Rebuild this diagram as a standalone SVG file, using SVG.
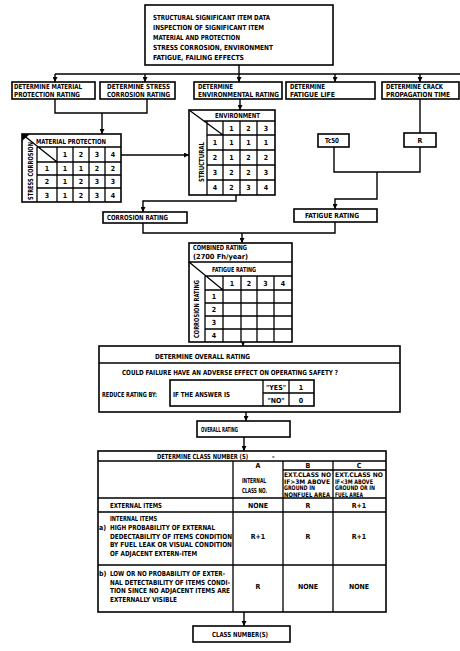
<svg xmlns="http://www.w3.org/2000/svg" width="460" height="651" viewBox="0 0 460 651">
<style>
.b{fill:#fff;stroke:#000;stroke-width:1.6}
.g{fill:none;stroke:#000;stroke-width:1.3}
.c{fill:none;stroke:#000;stroke-width:1.4}
text{font-family:"Liberation Sans Narrow","DejaVu Sans Condensed","Liberation Sans",sans-serif;font-weight:bold;font-size:7px;fill:#000}
.m{text-anchor:middle}
.s{font-size:6.3px}
</style>
<defs>
<marker id="ah" viewBox="0 0 10 10" refX="10" refY="5" markerWidth="5" markerHeight="5" markerUnits="userSpaceOnUse" orient="auto"><path d="M0,0 L10,5 L0,10 z" fill="#000"/></marker>
</defs>
<rect width="460" height="651" fill="#fff"/>

<g id="connectors">
<path class="c" d="M239,65 V74 M55,74 H460"/>
<path class="c" d="M55,74 V82" marker-end="url(#ah)"/>
<path class="c" d="M145,74 V82" marker-end="url(#ah)"/>
<path class="c" d="M239,74 V82" marker-end="url(#ah)"/>
<path class="c" d="M335,74 V82" marker-end="url(#ah)"/>
<path class="c" d="M420,74 V82" marker-end="url(#ah)"/>
<path class="c" d="M55,99 V113 H147 V99"/>
<path class="c" d="M102,113 V134" marker-end="url(#ah)"/>
<path class="c" d="M121,155 H189" marker-end="url(#ah)"/>
<path class="c" d="M240,99 V110" marker-end="url(#ah)"/>
<path class="c" d="M236,195 V201 H143 V212" marker-end="url(#ah)"/>
<path class="c" d="M420,99 V133"/>
<path class="c" d="M334,147 V172 H420 V147 M377,172 V199 H335 V209" marker-end="url(#ah)"/>
<path class="c" d="M143,223 V233 H335 V222"/>
<path class="c" d="M242,233 V243" marker-end="url(#ah)"/>
<path class="c" d="M243,339 V346" marker-end="url(#ah)"/>
<path class="c" d="M246,412 V421" marker-end="url(#ah)"/>
<path class="c" d="M244,437 V451" marker-end="url(#ah)"/>
<path class="c" d="M244,612 V626" marker-end="url(#ah)"/>
</g>

<g id="top">
<rect class="b" x="145" y="5" width="188" height="60"/>
<text x="153" y="19.5" textLength="117" lengthAdjust="spacingAndGlyphs">STRUCTURAL SIGNIFICANT ITEM DATA</text>
<text x="153" y="29.5" textLength="111" lengthAdjust="spacingAndGlyphs">INSPECTION OF SIGNIFICANT ITEM</text>
<text x="153" y="39.5" textLength="87" lengthAdjust="spacingAndGlyphs">MATERIAL AND PROTECTION</text>
<text x="153" y="49.5" textLength="120" lengthAdjust="spacingAndGlyphs">STRESS CORROSION, ENVIRONMENT</text>
<text x="153" y="60" textLength="91" lengthAdjust="spacingAndGlyphs">FATIGUE, FAILING EFFECTS</text>
</g>

<g id="det-material">
<rect class="b" x="12" y="82" width="83" height="17"/>
<text x="14" y="89" textLength="68" lengthAdjust="spacingAndGlyphs">DETERMINE MATERIAL</text>
<text x="14" y="97" textLength="66" lengthAdjust="spacingAndGlyphs">PROTECTION RATING</text>
</g>
<g id="det-stress">
<rect class="b" x="100" y="82" width="75" height="17"/>
<text x="107" y="89" textLength="63" lengthAdjust="spacingAndGlyphs">DETERMINE STRESS</text>
<text x="107" y="97" textLength="63" lengthAdjust="spacingAndGlyphs">CORROSION RATING</text>
</g>
<g id="det-env">
<rect class="b" x="194" y="82" width="88" height="17"/>
<text x="198" y="89" textLength="35" lengthAdjust="spacingAndGlyphs">DETERMINE</text>
<text x="198" y="97" textLength="81" lengthAdjust="spacingAndGlyphs">ENVIRONMENTAL RATING</text>
</g>
<g id="det-fatigue">
<rect class="b" x="286" y="82" width="89" height="17"/>
<text x="290" y="89" textLength="35" lengthAdjust="spacingAndGlyphs">DETERMINE</text>
<text x="290" y="97" textLength="45" lengthAdjust="spacingAndGlyphs">FATIGUE LIFE</text>
</g>
<g id="det-crack">
<rect class="b" x="382" y="82" width="77" height="17"/>
<text x="386" y="89" textLength="57" lengthAdjust="spacingAndGlyphs">DETERMINE CRACK</text>
<text x="386" y="97" textLength="64" lengthAdjust="spacingAndGlyphs">PROPAGATION TIME</text>
</g>

<g id="material-table">
<rect class="b" x="22" y="134" width="99" height="68"/>
<polygon points="22,134 30,134 22,141" fill="#000"/>
<path class="g" d="M22,134 L57,162 M37,147 H121 M37,147 V202 M37,162 H121 M37,175 H121 M37,188 H121 M57,147 V202 M73,147 V202 M89,147 V202 M105,147 V202"/>
<text x="36" y="144" textLength="70" lengthAdjust="spacingAndGlyphs">MATERIAL PROTECTION</text>
<text transform="translate(32.5,200) rotate(-90)" textLength="58" lengthAdjust="spacingAndGlyphs">STRESS CORROSION</text>
<text class="m" x="65" y="157">1</text><text class="m" x="81" y="157">2</text><text class="m" x="97" y="157">3</text><text class="m" x="113" y="157">4</text>
<text class="m" x="47" y="171">1</text><text class="m" x="65" y="171">1</text><text class="m" x="81" y="171">1</text><text class="m" x="97" y="171">2</text><text class="m" x="113" y="171">2</text>
<text class="m" x="47" y="184">2</text><text class="m" x="65" y="184">1</text><text class="m" x="81" y="184">2</text><text class="m" x="97" y="184">3</text><text class="m" x="113" y="184">3</text>
<text class="m" x="47" y="197.5">3</text><text class="m" x="65" y="197.5">1</text><text class="m" x="81" y="197.5">2</text><text class="m" x="97" y="197.5">3</text><text class="m" x="113" y="197.5">4</text>
</g>

<g id="environment-table">
<rect class="b" x="189" y="110" width="86" height="85"/>
<path class="g" d="M189,110 L223,135 M204,121 H275 M207,121 V195 M223,121 V195 M240,121 V195 M257,121 V195 M207,135 H275 M207,150 H275 M207,165 H275 M207,180 H275"/>
<text x="215" y="118" textLength="45" lengthAdjust="spacingAndGlyphs">ENVIRONMENT</text>
<text transform="translate(203.5,182) rotate(-90)" textLength="40" lengthAdjust="spacingAndGlyphs">STRUCTURAL</text>
<text class="m" x="231.5" y="130.5">1</text><text class="m" x="248.5" y="130.5">2</text><text class="m" x="266" y="130.5">3</text>
<text class="m" x="215" y="145">1</text><text class="m" x="231.5" y="145">1</text><text class="m" x="248.5" y="145">1</text><text class="m" x="266" y="145">1</text>
<text class="m" x="215" y="160">2</text><text class="m" x="231.5" y="160">1</text><text class="m" x="248.5" y="160">2</text><text class="m" x="266" y="160">2</text>
<text class="m" x="215" y="175">3</text><text class="m" x="231.5" y="175">2</text><text class="m" x="248.5" y="175">2</text><text class="m" x="266" y="175">3</text>
<text class="m" x="215" y="190">4</text><text class="m" x="231.5" y="190">2</text><text class="m" x="248.5" y="190">3</text><text class="m" x="266" y="190">4</text>
</g>

<g id="tc50">
<rect class="b" x="318" y="134" width="31" height="13"/>
<text x="325" y="143" textLength="14" lengthAdjust="spacingAndGlyphs">Tc50</text>
</g>
<g id="r">
<rect class="b" x="404" y="133" width="32" height="14"/>
<text class="m" x="420" y="143">R</text>
</g>

<g id="corrosion-rating">
<rect class="b" x="103" y="212" width="84" height="11"/>
<text x="107" y="220" textLength="61" lengthAdjust="spacingAndGlyphs">CORROSION RATING</text>
</g>
<g id="fatigue-rating">
<rect class="b" x="294" y="209" width="83" height="13"/>
<text x="305" y="218" textLength="54" lengthAdjust="spacingAndGlyphs">FATIGUE RATING</text>
</g>

<g id="combined-table">
<rect class="b" x="189" y="243" width="103" height="99"/>
<path class="g" d="M189,262 H292 M189,262 L223,290 M206,276 H292 M205,276 V342 M205,290 H292 M205,303 H292 M205,316 H292 M205,329 H292 M223,276 V342 M241,276 V342 M257,276 V342 M274,276 V342"/>
<text x="193" y="250" textLength="54" lengthAdjust="spacingAndGlyphs">COMBINED RATING</text>
<text x="193" y="259" textLength="55" lengthAdjust="spacingAndGlyphs">(2700 Fh/year)</text>
<text x="212" y="272" textLength="44" lengthAdjust="spacingAndGlyphs">FATIGUE RATING</text>
<text transform="translate(199,338) rotate(-90)" textLength="58" lengthAdjust="spacingAndGlyphs">CORROSION RATING</text>
<text class="m" x="232" y="285.5">1</text><text class="m" x="249" y="285.5">2</text><text class="m" x="265.5" y="285.5">3</text><text class="m" x="283" y="285.5">4</text>
<text class="m" x="214" y="299">1</text><text class="m" x="214" y="312">2</text><text class="m" x="214" y="325">3</text><text class="m" x="214" y="338">4</text>
</g>

<g id="overall-determine">
<rect class="b" x="99" y="346" width="301" height="66"/>
<path class="g" d="M99,363 H400"/>
<text x="155" y="359" textLength="95" lengthAdjust="spacingAndGlyphs">DETERMINE OVERALL RATING</text>
<text x="122" y="375" textLength="216" lengthAdjust="spacingAndGlyphs">COULD FAILURE HAVE AN ADVERSE EFFECT ON OPERATING SAFETY ?</text>
<text x="102" y="397" textLength="55" lengthAdjust="spacingAndGlyphs">REDUCE RATING BY:</text>
<rect class="b" x="170" y="380" width="144" height="26"/>
<path class="g" d="M263,380 V406 M289,380 V406 M263,393 H314"/>
<text x="173" y="397" textLength="57" lengthAdjust="spacingAndGlyphs">IF THE ANSWER IS</text>
<text class="m" x="276" y="390">"YES"</text>
<text class="m" x="276" y="403">"NO"</text>
<text class="m" x="301" y="390">1</text>
<text class="m" x="301" y="403">0</text>
</g>

<g id="overall-rating">
<rect class="b" x="197" y="421" width="93" height="16"/>
<text x="201" y="432" textLength="37" lengthAdjust="spacingAndGlyphs">OVERALL RATING</text>
</g>

<g id="class-table">
<rect class="b" x="98" y="451" width="288" height="161"/>
<path class="g" d="M98,461 H386 M283,470 H386 M98,498 H386 M98,512 H386 M98,565 H386 M233,461 V612 M283,461 V612 M333,461 V612"/>
<text x="157" y="459" textLength="91" lengthAdjust="spacingAndGlyphs">DETERMINE CLASS NUMBER (S)</text>
<text x="272" y="459">-</text>
<text class="m" x="258" y="468">A</text>
<text class="m" x="308" y="468">B</text>
<text class="m" x="359" y="468">C</text>
<text x="242" y="483" textLength="24" lengthAdjust="spacingAndGlyphs">INTERNAL</text>
<text x="242" y="493" textLength="25" lengthAdjust="spacingAndGlyphs">CLASS NO.</text>
<text class="s" x="284" y="477" textLength="47" lengthAdjust="spacingAndGlyphs">EXT.CLASS NO</text>
<text class="s" x="284" y="483.5" textLength="46" lengthAdjust="spacingAndGlyphs">IF&gt;3M ABOVE</text>
<text class="s" x="284" y="490" textLength="31" lengthAdjust="spacingAndGlyphs">GROUND IN</text>
<text class="s" x="284" y="496.5" textLength="46" lengthAdjust="spacingAndGlyphs">NONFUEL AREA</text>
<text class="s" x="335" y="477" textLength="48" lengthAdjust="spacingAndGlyphs">EXT.CLASS NO</text>
<text class="s" x="335" y="483.5" textLength="38" lengthAdjust="spacingAndGlyphs">IF&lt;3M ABOVE</text>
<text class="s" x="335" y="490" textLength="40" lengthAdjust="spacingAndGlyphs">GROUND OR IN</text>
<text class="s" x="335" y="496.5" textLength="28" lengthAdjust="spacingAndGlyphs">FUEL AREA</text>
<text x="110" y="508" textLength="52" lengthAdjust="spacingAndGlyphs">EXTERNAL ITEMS</text>
<text class="m" x="258" y="508">NONE</text>
<text class="m" x="308" y="508">R</text>
<text class="m" x="359" y="508">R+1</text>
<text x="110" y="521" textLength="47" lengthAdjust="spacingAndGlyphs">INTERNAL ITEMS</text>
<text x="99" y="530">a)</text>
<text x="110" y="530" textLength="105" lengthAdjust="spacingAndGlyphs">HIGH PROBABILITY OF EXTERNAL</text>
<text x="110" y="538.5" textLength="122" lengthAdjust="spacingAndGlyphs">DEDECTABILITY OF ITEMS CONDITION</text>
<text x="110" y="547" textLength="122" lengthAdjust="spacingAndGlyphs">BY FUEL LEAK OR VISUAL CONDITION</text>
<text x="110" y="555.5" textLength="87" lengthAdjust="spacingAndGlyphs">OF ADJACENT EXTERN-ITEM</text>
<text class="m" x="258" y="539">R+1</text>
<text class="m" x="308" y="539">R</text>
<text class="m" x="359" y="539">R+1</text>
<text x="99" y="576">b)</text>
<text x="110" y="576" textLength="115" lengthAdjust="spacingAndGlyphs">LOW OR NO PROBABILITY OF EXTER-</text>
<text x="110" y="584.5" textLength="120" lengthAdjust="spacingAndGlyphs">NAL DETECTABILITY OF ITEMS CONDI-</text>
<text x="110" y="593" textLength="120" lengthAdjust="spacingAndGlyphs">TION SINCE NO ADJACENT ITEMS ARE</text>
<text x="110" y="601.5" textLength="67" lengthAdjust="spacingAndGlyphs">EXTERNALLY VISIBLE</text>
<text class="m" x="258" y="589">R</text>
<text class="m" x="308" y="589">NONE</text>
<text class="m" x="359" y="589">NONE</text>
</g>

<g id="class-number">
<rect class="b" x="193" y="626" width="97" height="16"/>
<text x="212" y="637" textLength="56" lengthAdjust="spacingAndGlyphs">CLASS NUMBER(S)</text>
</g>
</svg>
